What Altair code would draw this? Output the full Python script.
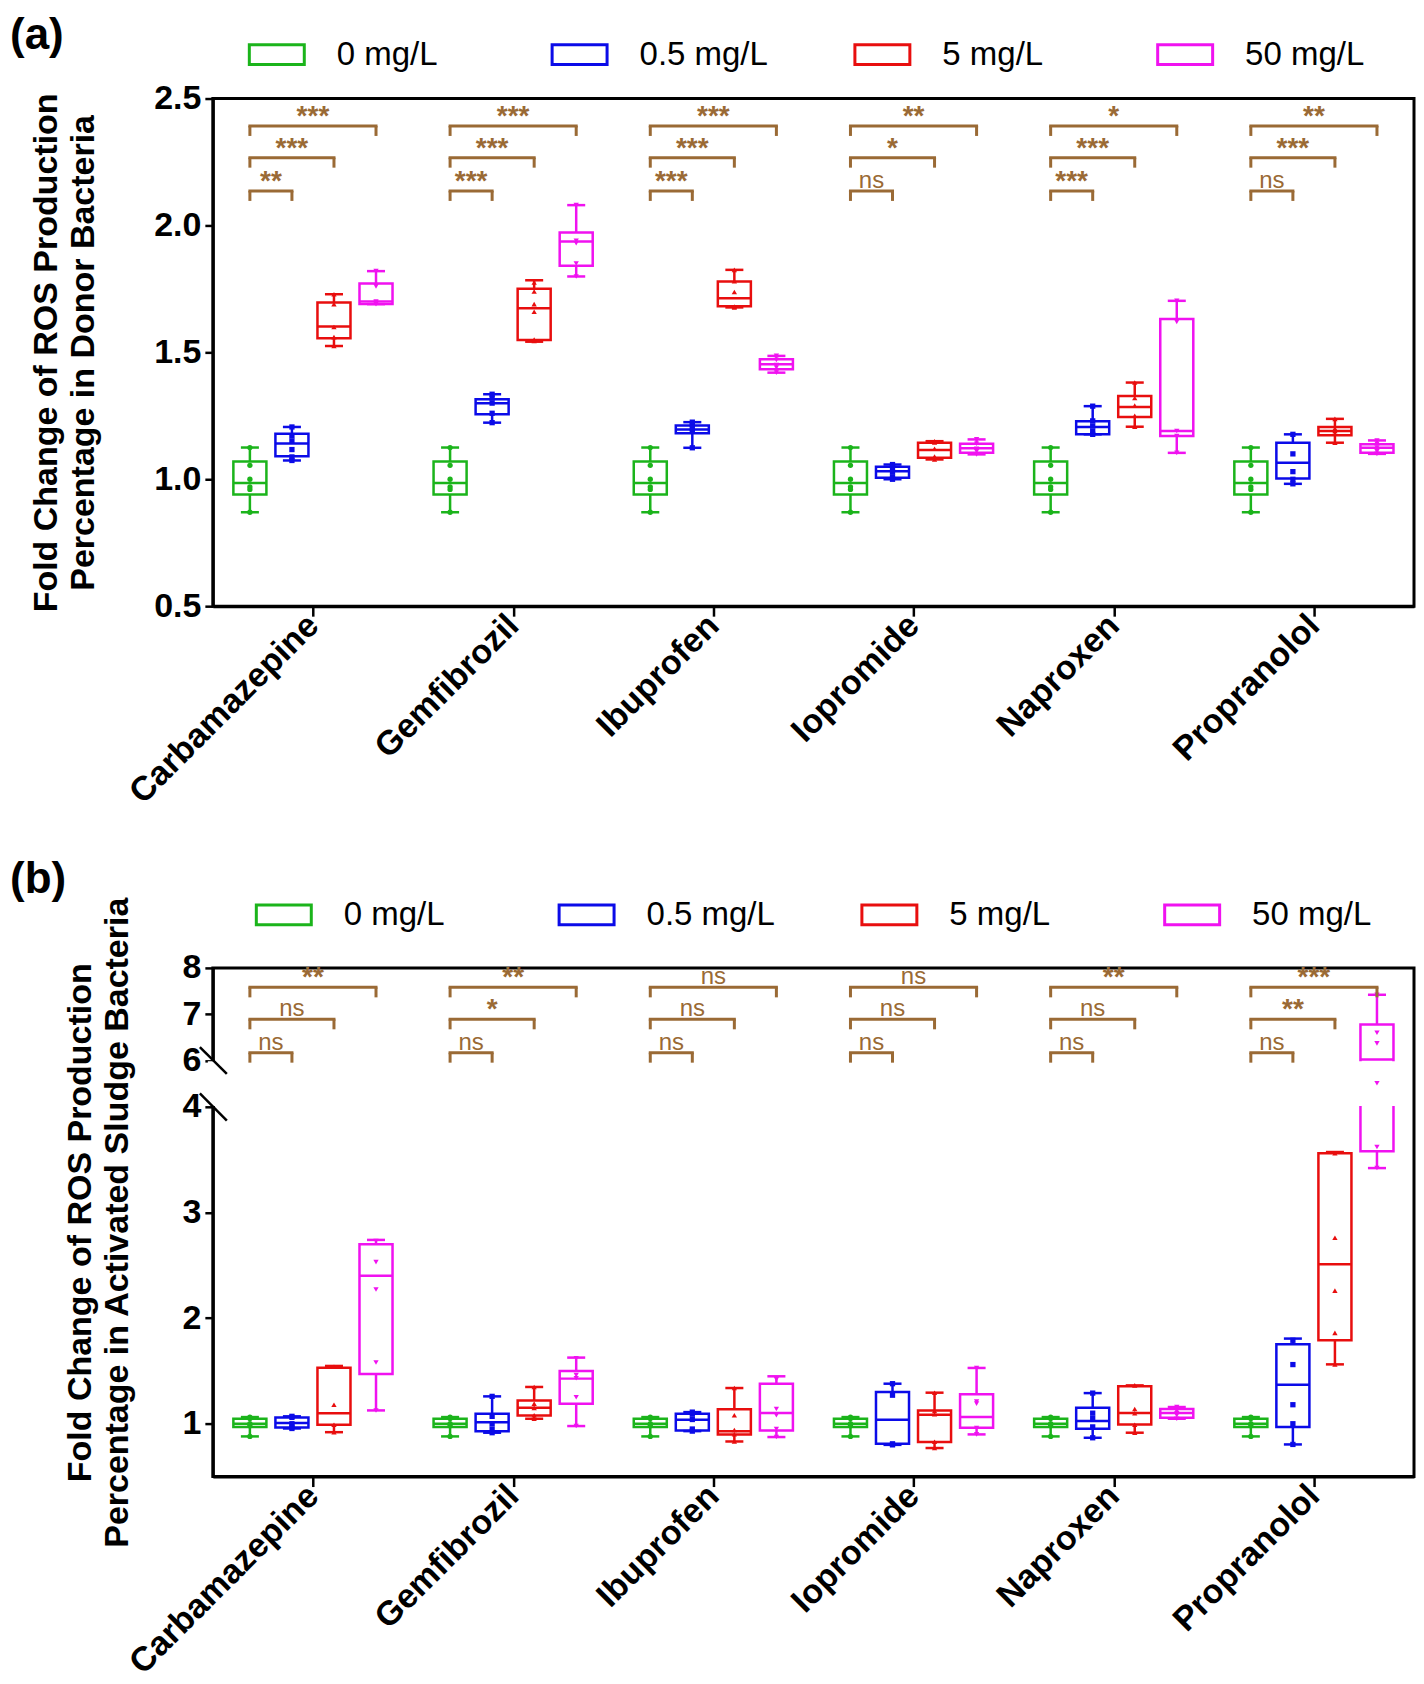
import altair as alt
import pandas as pd

drugs = ["Carbamazepine", "Gemfibrozil", "Ibuprofen", "Iopromide", "Naproxen", "Propranolol"]
concs = ["0 mg/L", "0.5 mg/L", "5 mg/L", "50 mg/L"]
conc_codes = ["g0", "g1", "g2", "g3"]
conc_colors = ["#1BB41B", "#0B0BE8", "#E80E0E", "#F012F0"]
conc_shapes = ["circle", "square", "triangle-up", "triangle-down"]
bracket_color = "#9A6A35"

# ---------------- panel (a): [min, q1, median, q3, max] per drug ----------------
a_stats_0 = [
    [0.87, 0.94, 0.985, 1.07, 1.125],
    [0.87, 0.94, 0.985, 1.07, 1.125],
    [0.87, 0.94, 0.985, 1.07, 1.125],
    [0.87, 0.94, 0.985, 1.07, 1.125],
    [0.87, 0.94, 0.985, 1.07, 1.125],
    [0.87, 0.94, 0.985, 1.07, 1.125],
]
a_stats_05 = [
    [1.074, 1.091, 1.141, 1.179, 1.206],
    [1.223, 1.256, 1.299, 1.315, 1.335],
    [1.124, 1.181, 1.196, 1.212, 1.225],
    [1.000, 1.006, 1.032, 1.049, 1.058],
    [1.177, 1.177, 1.206, 1.229, 1.288],
    [0.982, 1.003, 1.065, 1.144, 1.177],
]
a_stats_5 = [
    [1.525, 1.556, 1.602, 1.696, 1.729],
    [1.542, 1.549, 1.674, 1.751, 1.784],
    [1.677, 1.682, 1.713, 1.779, 1.825],
    [1.078, 1.085, 1.115, 1.144, 1.150],
    [1.207, 1.245, 1.285, 1.328, 1.381],
    [1.144, 1.173, 1.190, 1.206, 1.238],
]
a_stats_50 = [
    [1.690, 1.690, 1.700, 1.771, 1.820],
    [1.799, 1.841, 1.937, 1.972, 2.080],
    [1.420, 1.433, 1.453, 1.473, 1.486],
    [1.098, 1.104, 1.122, 1.140, 1.157],
    [1.104, 1.170, 1.190, 1.631, 1.703],
    [1.100, 1.104, 1.124, 1.138, 1.153],
]
a_pts_0 = [
    [0.87, 0.96, 0.97, 1.0, 1.055, 1.125],
    [0.87, 0.96, 0.97, 1.0, 1.055, 1.125],
    [0.87, 0.96, 0.97, 1.0, 1.055, 1.125],
    [0.87, 0.96, 0.97, 1.0, 1.055, 1.125],
    [0.87, 0.96, 0.97, 1.0, 1.055, 1.125],
    [0.87, 0.96, 0.97, 1.0, 1.055, 1.125],
]
a_pts_05 = [
    [1.074, 1.088, 1.117, 1.150, 1.170, 1.206],
    [1.223, 1.260, 1.300, 1.320, 1.335],
    [1.124, 1.190, 1.200, 1.215, 1.225],
    [1.000, 1.010, 1.030, 1.050, 1.058],
    [1.177, 1.190, 1.210, 1.230, 1.288],
    [0.982, 1.000, 1.030, 1.100, 1.177],
]
a_pts_5 = [
    [1.525, 1.560, 1.600, 1.690, 1.729],
    [1.545, 1.550, 1.660, 1.690, 1.740, 1.775],
    [1.677, 1.680, 1.738, 1.780, 1.825],
    [1.078, 1.090, 1.120, 1.145, 1.150],
    [1.207, 1.250, 1.290, 1.320, 1.381],
    [1.144, 1.180, 1.190, 1.200, 1.238],
]
a_pts_50 = [
    [1.690, 1.695, 1.700, 1.760, 1.820],
    [1.799, 1.850, 1.930, 1.940, 2.080],
    [1.420, 1.440, 1.450, 1.470, 1.486],
    [1.098, 1.110, 1.120, 1.140, 1.157],
    [1.104, 1.170, 1.190, 1.620, 1.703],
    [1.100, 1.110, 1.125, 1.140, 1.153],
]
# significance vs 0 mg/L: [0.5, 5, 50 mg/L]
a_sig = [
    ["**", "***", "***"],
    ["***", "***", "***"],
    ["***", "***", "***"],
    ["ns", "*", "**"],
    ["***", "***", "*"],
    ["ns", "***", "**"],
]
a_levels = [2.136, 2.267, 2.392]

# ---------------- panel (b) ----------------
b_stats_0 = [
    [0.88, 0.97, 1.0, 1.047, 1.063],
    [0.88, 0.97, 1.0, 1.047, 1.063],
    [0.88, 0.97, 1.0, 1.047, 1.063],
    [0.88, 0.97, 1.0, 1.047, 1.063],
    [0.88, 0.97, 1.0, 1.047, 1.063],
    [0.88, 0.97, 1.0, 1.047, 1.063],
]
b_stats_05 = [
    [0.955, 0.965, 1.006, 1.060, 1.070],
    [0.915, 0.930, 1.015, 1.095, 1.259],
    [0.930, 0.937, 1.038, 1.095, 1.110],
    [0.800, 0.810, 1.038, 1.300, 1.379],
    [0.867, 0.953, 1.025, 1.152, 1.290],
    [0.804, 0.968, 1.370, 1.752, 1.806],
]
b_stats_5 = [
    [0.920, 0.990, 1.100, 1.530, 1.547],
    [1.047, 1.079, 1.152, 1.221, 1.348],
    [0.832, 0.899, 0.930, 1.136, 1.338],
    [0.770, 0.826, 1.085, 1.126, 1.294],
    [0.915, 0.993, 1.101, 1.355, 1.363],
    [1.562, 1.790, 2.510, 3.560, 3.572],
]
b_stats_50 = [
    [1.126, 1.470, 2.400, 2.700, 2.740],
    [0.978, 1.190, 1.427, 1.500, 1.626],
    [0.874, 0.937, 1.101, 1.379, 1.449],
    [0.899, 0.962, 1.063, 1.278, 1.528],
    [1.047, 1.057, 1.101, 1.140, 1.158],
    [3.420, 3.580, 6.020, 6.780, 7.420],
]
b_pts_0 = [
    [0.88, 0.98, 1.0, 1.05, 1.063],
    [0.88, 0.98, 1.0, 1.05, 1.063],
    [0.88, 0.98, 1.0, 1.05, 1.063],
    [0.88, 0.98, 1.0, 1.05, 1.063],
    [0.88, 0.98, 1.0, 1.05, 1.063],
    [0.88, 0.98, 1.0, 1.05, 1.063],
]
b_pts_05 = [
    [0.955, 0.970, 1.000, 1.060, 1.070],
    [0.915, 0.950, 1.000, 1.070, 1.259],
    [0.930, 0.950, 1.040, 1.090, 1.110],
    [0.800, 0.810, 1.270, 1.379],
    [0.867, 0.970, 1.050, 1.100, 1.290],
    [0.804, 1.000, 1.180, 1.560, 1.790],
]
b_pts_5 = [
    [0.920, 0.990, 1.180, 1.540],
    [1.047, 1.080, 1.150, 1.190, 1.348],
    [0.832, 0.900, 0.940, 1.080, 1.338],
    [0.770, 0.830, 1.090, 1.120, 1.294],
    [0.915, 0.990, 1.100, 1.140, 1.363],
    [1.562, 1.860, 2.260, 2.760, 3.560],
]
b_pts_50 = [
    [1.126, 1.580, 2.270, 2.530, 2.730],
    [0.978, 1.250, 1.430, 1.460, 1.620],
    [0.874, 0.950, 1.080, 1.140, 1.420],
    [0.899, 0.960, 1.190, 1.210, 1.528],
    [1.047, 1.080, 1.100, 1.120, 1.158],
    [3.420, 3.620, 5.020, 6.370, 6.600, 7.420],
]
b_sig = [
    ["ns", "ns", "**"],
    ["ns", "*", "**"],
    ["ns", "ns", "ns"],
    ["ns", "ns", "ns"],
    ["ns", "ns", "**"],
    ["ns", "**", "***"],
]
b_levels = [6.17, 6.89, 7.58]

# ---------------- layout / style constants ----------------
W = 1202
SUB = 0.21        # spacing between concentration boxes (x units)
HALF_BOX = 0.0825
HALF_CAP = 0.045
FONT = "Liberation Sans"

xscale = alt.Scale(domain=[-0.5, 5.5], nice=False, zero=False)
label_expr = "[" + ",".join("'%s'" % d for d in drugs) + "][datum.value]"
xaxis = alt.Axis(values=list(range(len(drugs))), labelExpr=label_expr, title=None,
                 labelAngle=315, labelAlign="right", labelBaseline="middle",
                 labelFontSize=34, labelPadding=4, tickSize=10, labelFlush=False,
                 labelOverlap=False, labelBound=False, labelLimit=600)


def pos_of(i, j):
    return i + (j - 1.5) * SUB


def make_panel(stats_list, pts_list, sig, levels, height, yscale, yvalues, yfmt,
               ytitle, title_pad, tag, tag_y, leg_x, leg_y, broken=False):
    rows, prow = [], []
    for j, c in enumerate(concs):
        for i, d in enumerate(drugs):
            mn, q1, md, q3, mx = stats_list[j][i]
            p = pos_of(i, j)
            rows.append(dict(drug=d, conc=c, grp=conc_codes[j], pos=p,
                             lo=p - HALF_BOX, hi=p + HALF_BOX,
                             clo=p - HALF_CAP, chi=p + HALF_CAP,
                             mn=mn, q1=q1, md=md, q3=q3, mx=mx))
            for v in pts_list[j][i]:
                prow.append(dict(drug=d, grp=conc_codes[j], pos=p, v=v))
    box_df = pd.DataFrame(rows)
    pts_df = pd.DataFrame(prow)

    brow, lrow = [], []
    for i, d in enumerate(drugs):
        x1 = pos_of(i, 0)
        for k in range(3):
            x2 = pos_of(i, k + 1)
            brow.append(dict(x1=x1, x2=x2, xm=(x1 + x2) / 2, lev=levels[k], lab=sig[i][k]))
            lrow.append(dict(x=x1, lev=levels[k]))
            lrow.append(dict(x=x2, lev=levels[k]))
    br_df = pd.DataFrame(brow)
    leg_df = pd.DataFrame(lrow)

    col = alt.Color("grp:N", scale=alt.Scale(domain=conc_codes, range=conc_colors), legend=None)
    yaxis = alt.Axis(values=yvalues, format=yfmt, title=ytitle, tickSize=8,
                     labelFontSize=34, labelPadding=4, titleFontSize=34,
                     titleLineHeight=37, titlePadding=title_pad)

    def X(f):
        return alt.X(f, type="quantitative", scale=xscale, axis=xaxis)

    def Y(f):
        return alt.Y(f, type="quantitative", scale=yscale, axis=yaxis)

    base = alt.Chart(box_df)
    whisk = base.mark_rule(strokeWidth=2.5).encode(
        x=X("pos"), y=Y("mn"), y2="mx:Q", color=col)
    box = base.mark_rect(fill="white", strokeWidth=2.5).encode(
        x=X("lo"), x2="hi:Q", y=Y("q1"), y2="q3:Q",
        stroke=alt.Stroke("conc:N", scale=alt.Scale(domain=concs, range=conc_colors),
                          legend=alt.Legend(
                              orient="none", legendX=leg_x, legendY=leg_y,
                              direction="horizontal", title=None,
                              symbolType="M-1,-0.36L1,-0.36L1,0.36L-1,0.36Z",
                              symbolSize=3025, symbolStrokeWidth=3,
                              symbolFillColor="white", labelFont=FONT,
                              labelFontSize=33, labelFontWeight="normal",
                              labelColor="black", labelOffset=31,
                              gridAlign="all", columnPadding=80, padding=0,
                              labelLimit=400)))
    med = base.mark_rule(strokeWidth=2.5).encode(
        x=X("lo"), x2="hi:Q", y=Y("md"), color=col)
    cap_lo = base.mark_rule(strokeWidth=2.5).encode(
        x=X("clo"), x2="chi:Q", y=Y("mn"), color=col)
    cap_hi = base.mark_rule(strokeWidth=2.5).encode(
        x=X("clo"), x2="chi:Q", y=Y("mx"), color=col)
    points = alt.Chart(pts_df).mark_point(filled=True, size=28, opacity=1).encode(
        x=X("pos"), y=Y("v"), color=col,
        shape=alt.Shape("grp:N", scale=alt.Scale(domain=conc_codes, range=conc_shapes), legend=None))
    bh = alt.Chart(br_df).mark_rule(strokeWidth=3, color=bracket_color, strokeCap="square").encode(
        x=X("x1"), x2="x2:Q", y=Y("lev"))
    bl = alt.Chart(leg_df).mark_rule(strokeWidth=3, color=bracket_color, y2Offset=10).encode(
        x=X("x"), y=Y("lev"), y2="lev:Q")
    bt_ns = alt.Chart(br_df).transform_filter("datum.lab == 'ns'").mark_text(
        font=FONT, fontSize=24, color=bracket_color, align="center",
        baseline="alphabetic", dy=-3).encode(x=X("xm"), y=Y("lev"), text="lab:N")
    bt_st = alt.Chart(br_df).transform_filter("datum.lab != 'ns'").mark_text(
        font=FONT, fontSize=28, fontWeight="bold", color=bracket_color, align="center",
        baseline="alphabetic", dy=-1).encode(x=X("xm"), y=Y("lev"), text="lab:N")
    tag_layer = alt.Chart(pd.DataFrame({"t": [tag]})).mark_text(
        font=FONT, fontSize=44, fontWeight="bold", align="left", baseline="top",
        color="black").encode(x=alt.value(-203), y=alt.value(tag_y), text="t:N")

    layers = [whisk, box]
    if broken:
        mask = alt.Chart(pd.DataFrame({"a": [0]})).mark_rect(fill="white").encode(
            x=alt.value(-5), x2=alt.value(W - 4),
            y=alt.datum(4.03, scale=yscale, axis=yaxis), y2=alt.datum(5.97))
        layers.append(mask)
    layers += [med, cap_lo, cap_hi, points, bh, bl, bt_ns, bt_st, tag_layer]
    if broken:
        brk1 = alt.Chart(pd.DataFrame({"a": [0]})).mark_rule(color="black", strokeWidth=2.5).encode(
            x=alt.value(-13), x2=alt.value(14),
            y=alt.datum(6.29, scale=yscale, axis=yaxis), y2=alt.datum(5.42))
        brk2 = alt.Chart(pd.DataFrame({"a": [0]})).mark_rule(color="black", strokeWidth=2.5).encode(
            x=alt.value(-13), x2=alt.value(14),
            y=alt.datum(4.58, scale=yscale, axis=yaxis), y2=alt.datum(3.87))
        layers += [brk1, brk2]
    return alt.layer(*layers).properties(width=W, height=height)


ya = alt.Scale(domain=[0.5, 2.5], nice=False, zero=False)
panel_a = make_panel([a_stats_0, a_stats_05, a_stats_5, a_stats_50],
                     [a_pts_0, a_pts_05, a_pts_5, a_pts_50],
                     a_sig, a_levels, 508, ya, [0.5, 1.0, 1.5, 2.0, 2.5], ".1f",
                     ["Fold Change of ROS Production", "Percentage in Donor Bacteria"],
                     53, "(a)", -85, 35, -73)

HB = 509
yb = alt.Scale(domain=[0.5, 4, 6, 8], range=[HB, 139, 92.7, 0], nice=False, zero=False)
panel_b = make_panel([b_stats_0, b_stats_05, b_stats_5, b_stats_50],
                     [b_pts_0, b_pts_05, b_pts_5, b_pts_50],
                     b_sig, b_levels, HB, yb, [1, 2, 3, 4, 6, 7, 8], "d",
                     ["Fold Change of ROS Production", "Percentage in Activated Sludge Bacteria"],
                     48, "(b)", -110, 42, -82, broken=True)

chart = alt.vconcat(panel_a, panel_b, spacing=44).resolve_scale(
    x="independent", y="independent", color="independent",
    stroke="independent", shape="independent"
).resolve_legend(stroke="independent").properties(
    padding={"left": 0, "top": 3, "right": 0, "bottom": 0}
).configure_view(
    stroke="black", strokeWidth=3
).configure_axis(
    domainColor="black", domainWidth=3, tickColor="black", tickWidth=2.5,
    labelFont=FONT, labelFontWeight="bold", labelColor="black", grid=False,
    titleFont=FONT, titleFontWeight="bold", titleColor="black"
)

chart.save("out.html", embed_options={"renderer": "svg", "actions": False})
